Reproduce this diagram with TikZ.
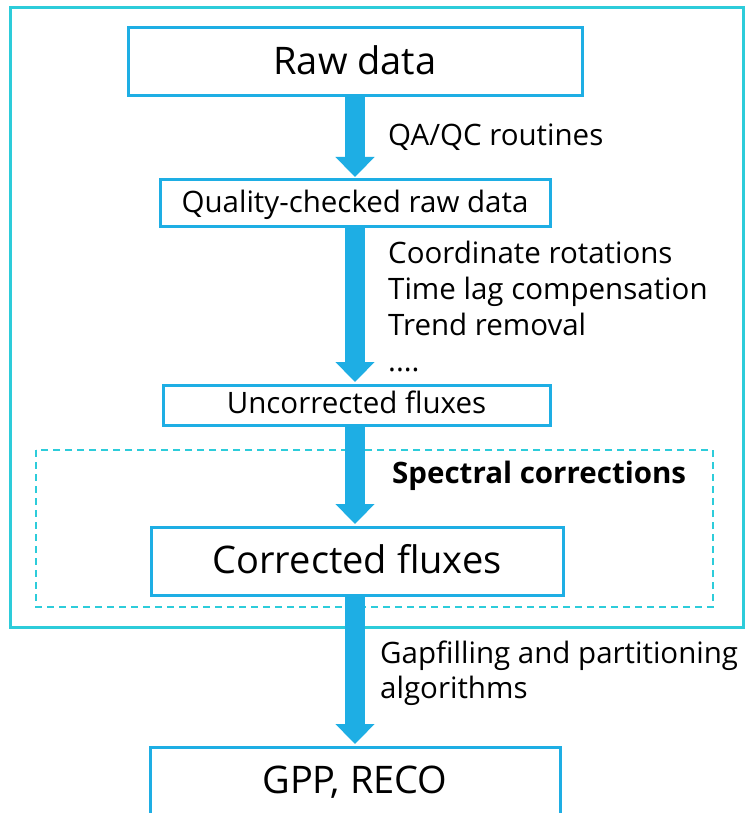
\documentclass[tikz,border=0pt]{standalone}
\usepackage{fontspec}
\setmainfont{Open Sans}
\usetikzlibrary{arrows.meta}
\definecolor{flowblue}{RGB}{30,174,228}
\definecolor{framecyan}{RGB}{45,204,218}
\newcommand{\bigtxt}{\fontsize{38}{44}\selectfont}
\newcommand{\smalltxt}{\fontsize{29.5}{36}\selectfont}
\tikzset{
  flowbox/.style={draw=flowblue, line width=3pt, fill=white, inner sep=0pt},
  bigarrow/.style={draw=flowblue, line width=20pt, -{Triangle[width=38pt,length=20pt]}},
  lbl/.style={anchor=base west, inner sep=0pt, font=\smalltxt},
}
\begin{document}
\begin{tikzpicture}[x=1pt,y=-1pt]
\useasboundingbox (0,0) rectangle (746,813);
\clip (0,0) rectangle (746,813);
\fill[white] (0,0) rectangle (746,813);
% outer frame
\draw[framecyan, line width=3pt] (10,8) rectangle (743,627);
% dashed frame
\draw[framecyan, line width=2pt, dash pattern=on 7pt off 5pt] (36,450) rectangle (713,607);
% boxes (text height/depth place the baseline)
\node[flowbox, minimum width=454pt, text height=47pt, text depth=21pt, font=\bigtxt] (raw) at (355,62) {Raw data};
\node[flowbox, minimum width=390pt, text height=32pt, text depth=14pt, font=\smalltxt] (qc) at (355,203) {Quality-checked raw data};
\node[flowbox, minimum width=387pt, text height=28pt, text depth=12pt, font=\smalltxt] (unc) at (356.5,405) {Uncorrected fluxes};
\node[flowbox, minimum width=412pt, text height=46pt, text depth=22pt, font=\bigtxt] (cor) at (357,561) {Corrected fluxes};
\node[flowbox, minimum width=410pt, text height=46pt, text depth=46pt, font=\bigtxt] (gpp) at (355,793) {GPP, RECO};
% arrows
\draw[bigarrow] (raw.south -| 355,0) -- ([yshift=1.5pt]qc.north -| 355,0);
\draw[bigarrow] (qc.south -| 355,0) -- ([yshift=1.5pt]unc.north -| 355,0);
\draw[bigarrow] (unc.south -| 355,0) -- ([yshift=1.5pt]cor.north -| 355,0);
\draw[bigarrow] (cor.south -| 355,0) -- ([yshift=1.5pt]gpp.north -| 355,0);
% labels
\node[lbl] (l1) at (388,146) {QA/QC routines};
\node[lbl] (l2) at (388,263) {Coordinate rotations};
\node[lbl] (l3) at (388,299) {Time lag compensation};
\node[lbl] (l4) at (388,335) {Trend removal};
\node[lbl] (l5) at (388,371) {....};
\node[lbl, font=\smalltxt\bfseries] (l6) at (392,483) {Spectral corrections};
\node[lbl] (l7) at (380,663) {Gapfilling and partitioning};
\node[lbl] (l8) at (380,698) {algorithms};
\end{tikzpicture}
\end{document}
